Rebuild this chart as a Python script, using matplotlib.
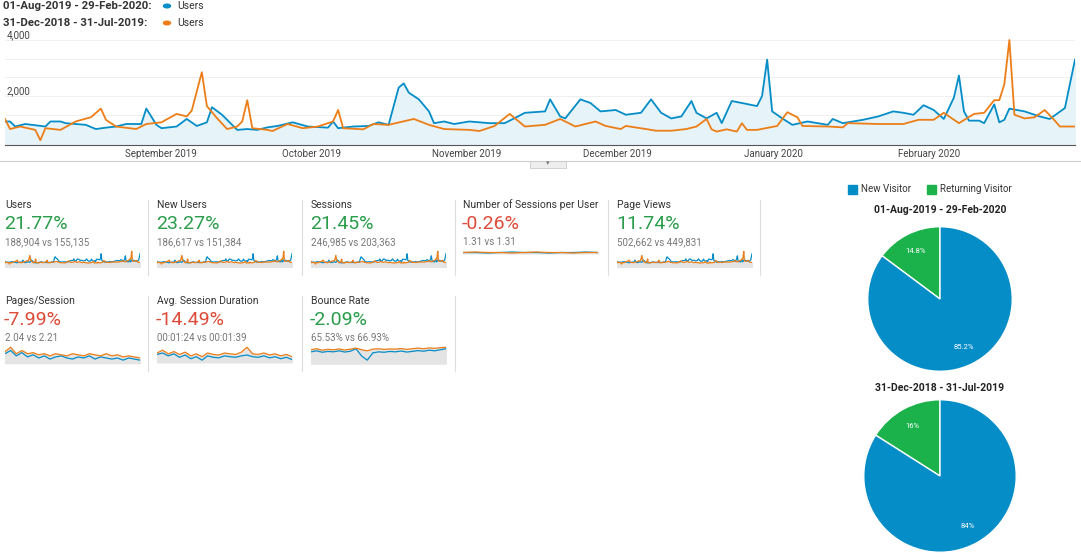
import matplotlib
matplotlib.use("Agg")
import matplotlib.pyplot as plt
import numpy as np

plt.rcParams['font.family'] = ['Roboto', 'DejaVu Sans']

BLUE = '#058dc7'
ORANGE = '#ed7e17'
GREEN_TXT = '#2a9d4b'
RED_TXT = '#dd4b39'
GREEN_PIE = '#1bb24b'

# main chart data: (day index from 01-Aug-2019, users)
blue_days = [0, 1, 2, 4, 8, 9, 11, 12, 16, 18, 20, 22, 24, 27, 28, 30, 31, 34, 36, 38, 40, 41, 43, 46, 48, 50,
             52, 54, 57, 60, 64, 65, 66, 69, 72, 74, 76, 78, 79, 80, 82, 84, 85, 87, 89, 92, 96, 99, 101, 103,
             107, 108, 110, 111, 114, 116, 118, 121, 123, 126, 128, 130, 132, 134, 136, 137, 139, 141, 142, 144,
             146, 149, 150, 151, 152, 154, 156, 159, 163, 164, 166, 170, 173, 176, 178, 180, 182, 184, 186, 188,
             189, 190, 191, 193, 194, 196, 197, 198, 199, 202, 205, 207, 210, 212]
blue_vals = [1.09, 1.09, 0.91, 1.0, 0.91, 1.09, 1.09, 1.03, 0.97, 0.82, 0.87, 0.91, 1.0, 1.0, 1.55, 0.97,
             0.85, 0.91, 1.18, 0.93, 1.06, 1.6, 1.33, 0.79, 0.82, 0.79, 0.88, 0.93, 1.06, 0.91, 0.87, 1.09,
             0.85, 0.91, 0.93, 1.06, 0.97, 2.3, 2.45, 2.12, 1.88, 1.45, 1.03, 1.09, 1.0, 1.09, 1.03, 1.03,
             1.21, 1.4, 1.45, 1.88, 1.27, 1.2, 1.88, 1.75, 1.45, 1.5, 1.33, 1.4, 1.88, 1.4, 1.2, 1.27, 1.82,
             1.4, 1.2, 1.4, 1.03, 1.82, 1.75, 1.64, 2.0, 3.3, 1.45, 1.2, 0.97, 1.09, 0.97, 1.18, 1.03, 1.15,
             1.27, 1.45, 1.4, 1.33, 1.67, 1.5, 1.18, 1.94, 2.73, 1.45, 1.12, 1.12, 1.03, 1.7, 1.06, 1.15,
             1.55, 1.45, 1.27, 1.18, 1.57, 3.3]
orange_days = [0, 1, 3, 6, 7, 8, 11, 14, 17, 19, 20, 22, 26, 28, 31, 34, 36, 37, 39, 40, 42, 44, 46, 47, 48,
               49, 52, 53, 56, 59, 62, 65, 66, 67, 71, 73, 76, 81, 84, 87, 92, 94, 97, 100, 103, 107, 110,
               113, 117, 119, 122, 123, 127, 129, 132, 135, 137, 139, 140, 141, 143, 145, 146, 147, 149, 153,
               155, 157, 158, 163, 166, 167, 173, 178, 181, 184, 186, 189, 192, 194, 196, 197, 198, 199, 200,
               202, 204, 206, 208, 209, 212]
orange_vals = [1.18, 0.82, 0.91, 0.79, 0.42, 0.85, 0.79, 1.09, 1.24, 1.55, 1.15, 0.91, 0.82, 1.0, 1.06,
               1.36, 1.27, 1.48, 2.85, 1.64, 1.21, 0.82, 0.91, 1.09, 1.85, 0.85, 0.79, 0.75, 1.0, 0.85, 0.91,
               1.09, 1.5, 0.85, 0.81, 1.0, 0.97, 1.18, 0.97, 0.82, 0.79, 0.75, 0.93, 1.36, 0.91, 0.97, 1.18,
               0.91, 1.09, 0.93, 0.82, 0.93, 0.82, 0.76, 0.76, 0.82, 0.91, 1.18, 0.81, 0.73, 0.81, 0.73, 1.03,
               0.79, 0.79, 0.93, 1.42, 1.24, 0.93, 0.91, 0.88, 1.03, 1.0, 1.0, 1.15, 1.15, 1.4, 1.03, 1.36,
               1.4, 1.85, 1.85, 2.42, 4.0, 1.33, 1.2, 1.24, 1.5, 1.12, 0.91, 0.91]
month_labels = ['September 2019', 'October 2019', 'November 2019', 'December 2019', 'January 2020', 'February 2020']
month_days = [31, 61, 92, 122, 153, 184]

# scorecards
card_titles = ['Users', 'New Users', 'Sessions', 'Number of Sessions per User', 'Page Views',
               'Pages/Session', 'Avg. Session Duration', 'Bounce Rate']
card_pcts = ['21.77%', '23.27%', '21.45%', '-0.26%', '11.74%', '-7.99%', '-14.49%', '-2.09%']
card_good = [True, True, True, False, True, False, False, True]
card_subs = ['188,904 vs 155,135', '186,617 vs 151,384', '246,985 vs 203,363', '1.31 vs 1.31',
             '502,662 vs 449,831', '2.04 vs 2.21', '00:01:24 vs 00:01:39', '65.53% vs 66.93%']

# sparkline data for ratio metrics
spu_blue = [1.31, 1.31, 1.30, 1.31, 1.32, 1.31, 1.31, 1.30, 1.31, 1.31, 1.32, 1.31]
spu_orange = [1.31, 1.32, 1.31, 1.31, 1.30, 1.31, 1.32, 1.31, 1.31, 1.30, 1.31, 1.31]
pps_blue = [2.2, 2.35, 2.1, 2.25, 2.05, 2.15, 2.0, 2.1, 1.95, 2.05, 2.1, 2.0, 1.95, 2.05, 2.0, 2.1, 1.95,
            2.05, 2.0, 1.95, 2.0, 1.9, 2.0, 1.95, 1.9]
pps_orange = [2.3, 2.5, 2.2, 2.35, 2.2, 2.25, 2.15, 2.2, 2.1, 2.2, 2.15, 2.1, 2.2, 2.15, 2.1, 2.2, 2.15,
              2.1, 2.2, 2.1, 2.15, 2.05, 2.1, 2.05, 2.0]
asd_blue = [90, 95, 85, 92, 80, 88, 75, 82, 70, 85, 80, 78, 85, 82, 80, 85, 88, 82, 80, 85, 78, 82, 75, 80, 72]
asd_orange = [95, 105, 92, 100, 90, 98, 85, 92, 82, 95, 90, 88, 95, 92, 90, 98, 115, 92, 90, 95, 88, 92,
              85, 90, 82]
br_blue = [65, 65.5, 64.8, 65.2, 65, 65.5, 64.9, 65.3, 66.5, 63, 61, 64.5, 65, 64.8, 65.2, 65, 65.4, 64.9,
           65.2, 65.6, 65.3, 65.8, 65.5, 66, 66.5]
br_orange = [66, 66.5, 65.8, 66.2, 66, 66.4, 65.9, 66.3, 66.8, 66, 65.5, 66.3, 66.5, 66.2, 66.4, 66.3,
             66.6, 66.2, 66.5, 66.8, 66.5, 66.9, 66.7, 67, 67.2]

# pies
pie_labels = ['Returning Visitor', 'New Visitor']
pie_titles = ['01-Aug-2019 - 29-Feb-2020', '31-Dec-2018 - 31-Jul-2019']
pie_now = [14.8, 85.2]
pie_prev = [16, 84]

W, H = 1081, 559
fig = plt.figure(figsize=(W / 100, H / 100), dpi=100)


def ax_px(x, y, w, h):
    return fig.add_axes([x / W, 1 - (y + h) / H, w / W, h / H])


def ftxt(x, y, s, **kw):
    fig.text(x / W, 1 - y / H, s, **kw)


# legend header
ftxt(3, 6, '01-Aug-2019 - 29-Feb-2020:', fontsize=8.2, fontweight='bold', color='#333', va='center')
ftxt(3, 23, '31-Dec-2018 - 31-Jul-2019:', fontsize=8.2, fontweight='bold', color='#333', va='center')
fig.patches.append(plt.Circle((167 / W, 1 - 6 / H), 3.5 / W, transform=fig.transFigure, color=BLUE))
fig.patches.append(plt.Circle((167 / W, 1 - 23 / H), 3.5 / W, transform=fig.transFigure, color=ORANGE))
ftxt(177, 6, 'Users', fontsize=7.5, color='#333', va='center')
ftxt(177, 23, 'Users', fontsize=7.5, color='#333', va='center')

# main chart
ax = ax_px(5, 33, 1070, 112)
bv = np.array(blue_vals) * 1000
ov = np.array(orange_vals) * 1000
ax.fill_between(blue_days, bv, 0, color='#e6f3f9')
ax.plot(blue_days, bv, color=BLUE, lw=1.3)
ax.plot(orange_days, ov, color=ORANGE, lw=1.3)
ax.set_xlim(0, 212)
ax.set_ylim(250, 4250)
for g in np.arange(4000, 300, -667):
    ax.axhline(g, color='#efefef', lw=0.7, zorder=0)
ax.text(0.3, 4000, '4,000', fontsize=7, color='#444', va='bottom', ha='left')
ax.text(0.3, 2000, '2,000', fontsize=7, color='#444', va='bottom', ha='left')
ax.set_xticks([])
ax.set_yticks([])
for s in ['top', 'left', 'right']:
    ax.spines[s].set_visible(False)
ax.spines['bottom'].set_color('#555')
for lab, d in zip(month_labels, month_days):
    ftxt(5 + d * 5.02, 154, lab, fontsize=7, color='#444', ha='center', va='center')
fig.add_artist(plt.Line2D([0, 1], [1 - 161 / H] * 2, color='#ccc', lw=0.8))
fig.patches.append(plt.Rectangle((530 / W, 1 - 168 / H), 36 / W, 7 / H, transform=fig.transFigure,
                                 facecolor='#eee', edgecolor='#ccc', lw=0.6))
ftxt(548, 164, '▾', fontsize=5, color='#777', ha='center', va='center')

# scorecards
spark = [(blue_days, blue_vals, orange_days, orange_vals)] * 3 + [
    (range(len(spu_blue)), spu_blue, range(len(spu_orange)), spu_orange),
    (blue_days, blue_vals, orange_days, orange_vals),
    (range(len(pps_blue)), pps_blue, range(len(pps_orange)), pps_orange),
    (range(len(asd_blue)), asd_blue, range(len(asd_orange)), asd_orange),
    (range(len(br_blue)), br_blue, range(len(br_orange)), br_orange)]
card_x = [5, 157, 311, 463, 617, 5, 157, 311]
for i in range(8):
    x = card_x[i]
    y0 = 200 if i < 5 else 296
    ftxt(x, y0 + 5, card_titles[i], fontsize=7.5, color='#333', va='center')
    ftxt(x - 1, y0 + 24, card_pcts[i], fontsize=14, color=GREEN_TXT if card_good[i] else RED_TXT, va='center')
    ftxt(x, y0 + 42, card_subs[i], fontsize=7, color='#777', va='center')
    bx, by, ox, oy = spark[i]
    sa = ax_px(x, y0 + 50, 135, 18)
    sa.fill_between(ox, oy, min(min(by), min(oy)) - 0.3 * (max(by) - min(by) + 1e-9), color='#e4e4e4')
    sa.plot(bx, by, color=BLUE, lw=0.9)
    sa.plot(ox, oy, color=ORANGE, lw=0.9)
    lo = min(min(by), min(oy))
    hi = max(max(by), max(oy))
    if i == 3:
        sa.set_ylim(1.0, 1.36)
    else:
        sa.set_ylim(lo - 0.3 * (hi - lo), hi + 0.1 * (hi - lo))
    sa.set_xlim(min(min(bx), min(ox)), max(max(bx), max(ox)))
    sa.axis('off')
for x in [148, 302, 455, 608, 760]:
    fig.add_artist(plt.Line2D([x / W] * 2, [1 - 200 / H, 1 - 275 / H], color='#ddd', lw=0.8))
for x in [148, 302, 455]:
    fig.add_artist(plt.Line2D([x / W] * 2, [1 - 296 / H, 1 - 371 / H], color='#ddd', lw=0.8))

# pies
fig.patches.append(plt.Rectangle((848 / W, 1 - 194 / H), 9 / W, 9 / H, transform=fig.transFigure, color=BLUE))
ftxt(861, 189, 'New Visitor', fontsize=7, color='#333', va='center')
fig.patches.append(plt.Rectangle((927 / W, 1 - 194 / H), 9 / W, 9 / H, transform=fig.transFigure, color=GREEN_PIE))
ftxt(940, 189, 'Returning Visitor', fontsize=7, color='#333', va='center')
for vals, title, cy, r, ty in [(pie_now, pie_titles[0], 299, 73, 210), (pie_prev, pie_titles[1], 476, 77, 388)]:
    ftxt(940, ty, title, fontsize=7.5, fontweight='bold', color='#222', ha='center', va='center')
    pa = ax_px(940 - r, cy - r, 2 * r, 2 * r)
    lbls = ['%g%%' % v for v in vals]
    pa.pie(vals, colors=[GREEN_PIE, BLUE], startangle=90, labels=None,
           autopct=lambda p, l=lbls, v=vals: l[0] if abs(p - v[0]) < 0.5 else l[1],
           pctdistance=0.75, textprops=dict(color='white', fontsize=5.5),
           wedgeprops=dict(edgecolor='white', linewidth=1))
    pa.set_xlim(-1.01, 1.01)
    pa.set_ylim(-1.01, 1.01)
    pa.set_aspect('equal')

fig.savefig('out.png', dpi=100)
